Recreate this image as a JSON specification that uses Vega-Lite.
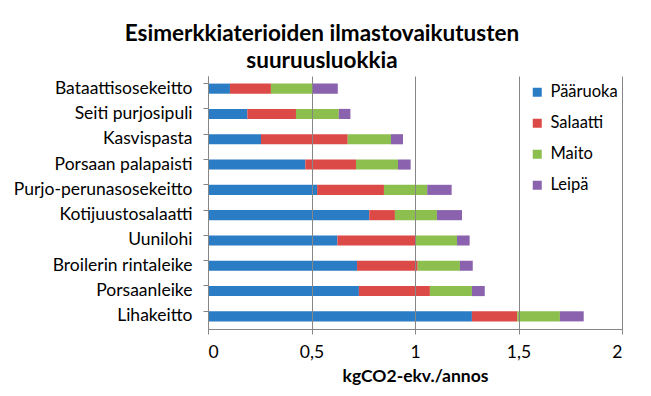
{
  "$schema": "https://vega.github.io/schema/vega-lite/v6.json",
  "autosize": "none",
  "width": 414,
  "height": 253,
  "padding": {"left": 208, "top": 76, "right": 29, "bottom": 67},
  "background": "white",
  "title": {
    "text": ["Esimerkkiaterioiden ilmastovaikutusten", "suuruusluokkia"],
    "font": "Lato",
    "fontSize": 22.5,
    "fontWeight": "bold",
    "color": "#000000",
    "lineHeight": 26.5,
    "anchor": "middle",
    "dx": -93,
    "offset": 4
  },
  "data": {
    "values": [
      {"ateria": "Bataattisosekeitto", "osa": "Pääruoka", "o": 1, "arvo": 0.106},
      {"ateria": "Bataattisosekeitto", "osa": "Salaatti", "o": 2, "arvo": 0.198},
      {"ateria": "Bataattisosekeitto", "osa": "Maito", "o": 3, "arvo": 0.202},
      {"ateria": "Bataattisosekeitto", "osa": "Leipä", "o": 4, "arvo": 0.121},
      {"ateria": "Seiti purjosipuli", "osa": "Pääruoka", "o": 1, "arvo": 0.19},
      {"ateria": "Seiti purjosipuli", "osa": "Salaatti", "o": 2, "arvo": 0.235},
      {"ateria": "Seiti purjosipuli", "osa": "Maito", "o": 3, "arvo": 0.207},
      {"ateria": "Seiti purjosipuli", "osa": "Leipä", "o": 4, "arvo": 0.056},
      {"ateria": "Kasvispasta", "osa": "Pääruoka", "o": 1, "arvo": 0.256},
      {"ateria": "Kasvispasta", "osa": "Salaatti", "o": 2, "arvo": 0.419},
      {"ateria": "Kasvispasta", "osa": "Maito", "o": 3, "arvo": 0.209},
      {"ateria": "Kasvispasta", "osa": "Leipä", "o": 4, "arvo": 0.058},
      {"ateria": "Porsaan palapaisti", "osa": "Pääruoka", "o": 1, "arvo": 0.47},
      {"ateria": "Porsaan palapaisti", "osa": "Salaatti", "o": 2, "arvo": 0.245},
      {"ateria": "Porsaan palapaisti", "osa": "Maito", "o": 3, "arvo": 0.203},
      {"ateria": "Porsaan palapaisti", "osa": "Leipä", "o": 4, "arvo": 0.061},
      {"ateria": "Purjo-perunasosekeitto", "osa": "Pääruoka", "o": 1, "arvo": 0.527},
      {"ateria": "Purjo-perunasosekeitto", "osa": "Salaatti", "o": 2, "arvo": 0.323},
      {"ateria": "Purjo-perunasosekeitto", "osa": "Maito", "o": 3, "arvo": 0.209},
      {"ateria": "Purjo-perunasosekeitto", "osa": "Leipä", "o": 4, "arvo": 0.118},
      {"ateria": "Kotijuustosalaatti", "osa": "Pääruoka", "o": 1, "arvo": 0.779},
      {"ateria": "Kotijuustosalaatti", "osa": "Salaatti", "o": 2, "arvo": 0.124},
      {"ateria": "Kotijuustosalaatti", "osa": "Maito", "o": 3, "arvo": 0.203},
      {"ateria": "Kotijuustosalaatti", "osa": "Leipä", "o": 4, "arvo": 0.121},
      {"ateria": "Uunilohi", "osa": "Pääruoka", "o": 1, "arvo": 0.625},
      {"ateria": "Uunilohi", "osa": "Salaatti", "o": 2, "arvo": 0.375},
      {"ateria": "Uunilohi", "osa": "Maito", "o": 3, "arvo": 0.203},
      {"ateria": "Uunilohi", "osa": "Leipä", "o": 4, "arvo": 0.061},
      {"ateria": "Broilerin rintaleike", "osa": "Pääruoka", "o": 1, "arvo": 0.72},
      {"ateria": "Broilerin rintaleike", "osa": "Salaatti", "o": 2, "arvo": 0.293},
      {"ateria": "Broilerin rintaleike", "osa": "Maito", "o": 3, "arvo": 0.204},
      {"ateria": "Broilerin rintaleike", "osa": "Leipä", "o": 4, "arvo": 0.062},
      {"ateria": "Porsaanleike", "osa": "Pääruoka", "o": 1, "arvo": 0.729},
      {"ateria": "Porsaanleike", "osa": "Salaatti", "o": 2, "arvo": 0.343},
      {"ateria": "Porsaanleike", "osa": "Maito", "o": 3, "arvo": 0.203},
      {"ateria": "Porsaanleike", "osa": "Leipä", "o": 4, "arvo": 0.062},
      {"ateria": "Lihakeitto", "osa": "Pääruoka", "o": 1, "arvo": 1.275},
      {"ateria": "Lihakeitto", "osa": "Salaatti", "o": 2, "arvo": 0.219},
      {"ateria": "Lihakeitto", "osa": "Maito", "o": 3, "arvo": 0.206},
      {"ateria": "Lihakeitto", "osa": "Leipä", "o": 4, "arvo": 0.115}
    ]
  },
  "mark": {"type": "bar"},
  "encoding": {
    "y": {
      "field": "ateria",
      "type": "nominal",
      "sort": null,
      "scale": {"paddingInner": 0.6, "paddingOuter": 0.3},
      "axis": {
        "title": null,
        "bandPosition": 0,
        "labelFont": "Lato",
        "labelFontSize": 17.5,
        "labelColor": "#000000",
        "labelPadding": 11,
        "tickSize": 5,
        "tickColor": "#868686",
        "domainColor": "#868686",
        "grid": false
      }
    },
    "x": {
      "field": "arvo",
      "type": "quantitative",
      "stack": "zero",
      "scale": {"domain": [0, 2], "nice": false},
      "axis": {
        "title": "kgCO2-ekv./annos",
        "titleFont": "Lato",
        "titleFontSize": 17.5,
        "titleFontWeight": "bold",
        "titleColor": "#000000",
        "titlePadding": 7,
        "values": [0, 0.5, 1, 1.5, 2],
        "labelExpr": "replace(datum.label, '.', ',')",
        "format": "~g",
        "labelFont": "Lato",
        "labelFontSize": 17.5,
        "labelColor": "#000000",
        "labelPadding": 9,
        "tickSize": 5,
        "tickColor": "#868686",
        "domainColor": "#868686",
        "grid": true,
        "gridColor": "#868686",
        "gridOpacity": 1,
        "zindex": 1
      }
    },
    "color": {
      "field": "osa",
      "type": "nominal",
      "scale": {
        "domain": ["Pääruoka", "Salaatti", "Maito", "Leipä"],
        "range": ["#2a7dc4", "#dc4a47", "#8cbf4e", "#8a62ae"]
      },
      "legend": {
        "title": null,
        "orient": "none",
        "legendX": 321,
        "legendY": 8,
        "symbolType": "square",
        "symbolSize": 81,
        "symbolStrokeWidth": 0,
        "labelFont": "Lato",
        "labelFontSize": 16.5,
        "labelColor": "#000000",
        "labelOffset": 5,
        "rowPadding": 14
      }
    },
    "order": {"field": "o", "type": "quantitative"}
  },
  "config": {
    "view": {"stroke": null}
  }
}
